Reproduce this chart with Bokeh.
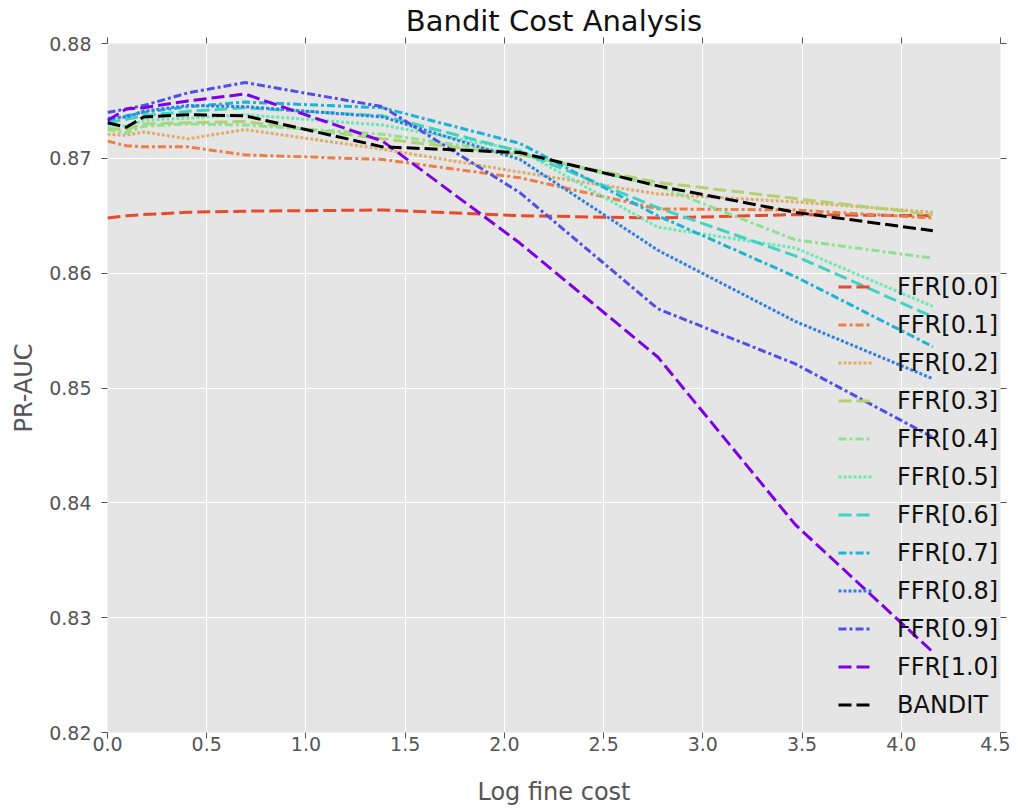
from bokeh.plotting import figure
from bokeh.models import (Range1d, LinearAxis, Legend, LegendItem, FixedTicker,
                          PrintfTickFormatter)
from bokeh.embed import file_html
from bokeh.resources import INLINE

# ---- data ----
log_fine_cost = [0.0, 0.095, 0.182, 0.405, 0.693, 1.386, 2.079, 2.773, 3.466, 4.159]

series_labels = ["FFR[0.0]", "FFR[0.1]", "FFR[0.2]", "FFR[0.3]", "FFR[0.4]", "FFR[0.5]",
                 "FFR[0.6]", "FFR[0.7]", "FFR[0.8]", "FFR[0.9]", "FFR[1.0]", "BANDIT"]

ffr_00 = [0.8648, 0.8650, 0.8651, 0.8653, 0.8654, 0.8655, 0.8650, 0.8648, 0.8651, 0.8650]
ffr_01 = [0.8715, 0.8711, 0.8710, 0.8710, 0.8703, 0.8699, 0.8683, 0.8656, 0.8655, 0.8648]
ffr_02 = [0.8721, 0.8720, 0.8723, 0.8717, 0.8725, 0.8708, 0.8688, 0.8669, 0.8662, 0.8653]
ffr_03 = [0.8726, 0.8725, 0.8730, 0.8731, 0.8732, 0.8717, 0.8703, 0.8679, 0.8665, 0.8651]
ffr_04 = [0.8725, 0.8722, 0.8728, 0.8730, 0.8729, 0.8721, 0.8704, 0.8676, 0.8629, 0.8613]
ffr_05 = [0.8729, 0.8728, 0.8733, 0.8735, 0.8738, 0.8729, 0.8707, 0.8640, 0.8622, 0.8571]
ffr_06 = [0.8731, 0.8734, 0.8737, 0.8741, 0.8744, 0.8737, 0.8706, 0.8657, 0.8615, 0.8562]
ffr_07 = [0.8733, 0.8737, 0.8740, 0.8745, 0.8749, 0.8744, 0.8713, 0.8650, 0.8597, 0.8536]
ffr_08 = [0.8735, 0.8736, 0.8741, 0.8746, 0.8745, 0.8736, 0.8699, 0.8620, 0.8558, 0.8508]
ffr_09 = [0.8740, 0.8743, 0.8746, 0.8757, 0.8766, 0.8745, 0.8670, 0.8569, 0.8521, 0.8457]
ffr_10 = [0.8733, 0.8743, 0.8744, 0.8750, 0.8756, 0.8715, 0.8626, 0.8527, 0.8381, 0.8270]
bandit = [0.8731, 0.8727, 0.8736, 0.8738, 0.8737, 0.8710, 0.8705, 0.8676, 0.8653, 0.8637]

x_ticks = [0.0, 0.5, 1.0, 1.5, 2.0, 2.5, 3.0, 3.5, 4.0, 4.5]
y_ticks = [0.82, 0.83, 0.84, 0.85, 0.86, 0.87, 0.88]

all_series = [ffr_00, ffr_01, ffr_02, ffr_03, ffr_04, ffr_05,
              ffr_06, ffr_07, ffr_08, ffr_09, ffr_10, bandit]

# ---- styles ----
colors = ["#e84a2c", "#ea8048", "#e0ae68", "#b2d272", "#90e094", "#6ce8b4",
          "#40d2c2", "#1eb2d6", "#3080e2", "#5050e6", "#8000e6", "#000000"]
LONG = "13 5"
DASHDOT = "8 3 3 3"
DOT = "3 2"
dashes = [LONG, DASHDOT, DOT, LONG, DASHDOT, DOT, LONG, DASHDOT, DOT, DASHDOT, LONG, LONG]

FONT = "DejaVu Sans"

p = figure(width=1010, height=808, output_backend="svg", toolbar_location=None,
           x_range=Range1d(0, 4.5), y_range=Range1d(0.82, 0.88),
           min_border_left=107, min_border_right=10, min_border_top=43, min_border_bottom=72,
           background_fill_color="#e5e5e5", border_fill_color="white",
           title="Bandit Cost Analysis")
p.outline_line_color = None

p.title.align = "center"
p.title.text_font = FONT
p.title.text_font_size = "29px"
p.title.text_font_style = "normal"
p.title.text_color = "#111111"
p.title.standoff = 0
p.title.offset = 0

p.grid.grid_line_color = "white"
p.grid.grid_line_width = 1
p.xgrid.ticker = FixedTicker(ticks=x_ticks)
p.ygrid.ticker = FixedTicker(ticks=y_ticks)

def style_axis(ax, show_labels=True):
    ax.axis_line_color = None
    ax.major_tick_line_color = "#555555"
    ax.major_tick_out = 6
    ax.major_tick_in = 0
    ax.minor_tick_out = 0
    ax.minor_tick_in = 0
    ax.minor_tick_line_color = None
    ax.major_label_text_font = FONT
    ax.axis_label_text_font = FONT
    ax.axis_label_text_font_size = "24px"
    ax.axis_label_text_font_style = "normal"
    ax.axis_label_text_color = "#555555"
    if show_labels:
        ax.major_label_text_font_size = "19px"
        ax.major_label_text_color = "#555555"
    else:
        ax.major_label_text_font_size = "1px"
        ax.major_label_text_color = None
        ax.major_label_standoff = 0

p.xaxis.ticker = FixedTicker(ticks=x_ticks)
p.xaxis.formatter = PrintfTickFormatter(format="%.1f")
p.yaxis.ticker = FixedTicker(ticks=y_ticks)
p.yaxis.formatter = PrintfTickFormatter(format="%.2f")
style_axis(p.xaxis[0])
style_axis(p.yaxis[0])
p.xaxis.axis_label = "Log fine cost"
p.yaxis.axis_label = "PR-AUC"
p.xaxis.major_label_standoff = -2
p.yaxis.major_label_standoff = 10
p.xaxis.axis_label_standoff = 24
p.yaxis.axis_label_standoff = 8

top_axis = LinearAxis(ticker=FixedTicker(ticks=x_ticks))
style_axis(top_axis, show_labels=False)
p.add_layout(top_axis, "above")
right_axis = LinearAxis(ticker=FixedTicker(ticks=y_ticks))
style_axis(right_axis, show_labels=False)
p.add_layout(right_axis, "right")

items = []
for label, ys, c, d in zip(series_labels, all_series, colors, dashes):
    r = p.line(log_fine_cost, ys, line_color=c, line_width=3, line_dash=d)
    items.append(LegendItem(label=label, renderers=[r]))

legend = Legend(items=items, location=(731, 12), padding=0, margin=0, spacing=7,
                glyph_width=34, glyph_height=31, label_height=31, label_standoff=25,
                label_text_font=FONT, label_text_font_size="24px",
                label_text_color="#111111",
                background_fill_alpha=0, border_line_color=None)
p.add_layout(legend)

open("out.html", "w").write(file_html(p, INLINE))
